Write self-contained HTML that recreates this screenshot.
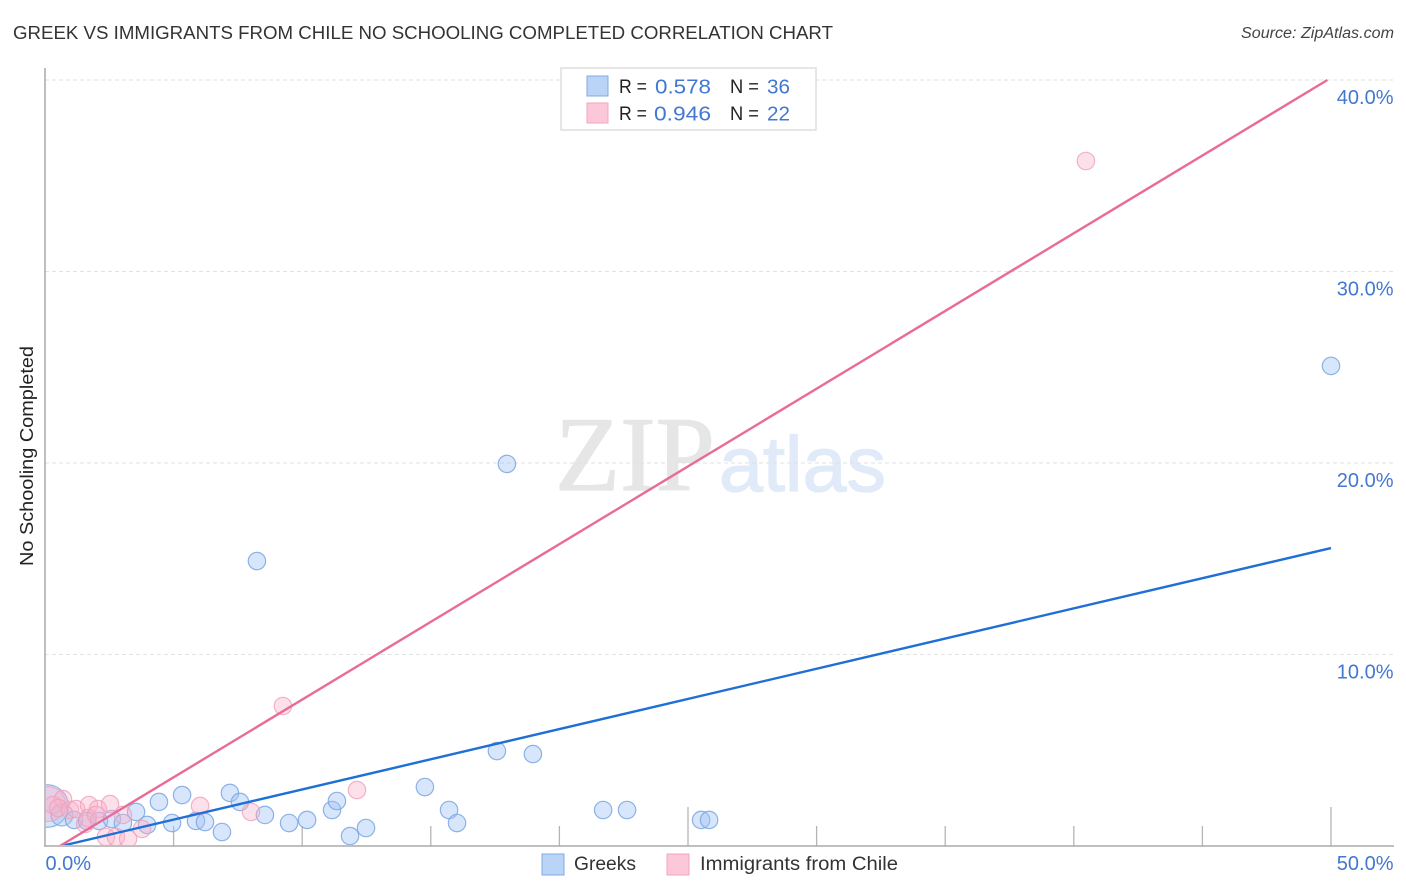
<!DOCTYPE html>
<html lang="en">
<head>
<meta charset="utf-8">
<title>Greek vs Immigrants from Chile No Schooling Completed Correlation Chart</title>
<style>
html,body{margin:0;padding:0;background:#fff;width:1406px;height:892px;overflow:hidden}
svg{display:block;font-family:"Liberation Sans",sans-serif}
</style>
</head>
<body>
<svg id="chart" width="1406" height="892" viewBox="0 0 1406 892" xmlns="http://www.w3.org/2000/svg">
  <text x="13" y="39" font-size="18" fill="#333" textLength="820" lengthAdjust="spacingAndGlyphs">GREEK VS IMMIGRANTS FROM CHILE NO SCHOOLING COMPLETED CORRELATION CHART</text>
  <text x="1241" y="38" font-size="15.500" font-style="italic" fill="#444" textLength="153" lengthAdjust="spacingAndGlyphs">Source: ZipAtlas.com</text>

  <g>
    <text x="555" y="490" font-family="'Liberation Serif',serif" font-size="106" fill="#e6e6e6" stroke="#e6e6e6" stroke-width="1.2" textLength="160" lengthAdjust="spacingAndGlyphs">ZIP</text>
    <text x="719" y="491" font-size="78" fill="#e0eaf9" stroke="#e0eaf9" stroke-width="1.2" textLength="167" lengthAdjust="spacingAndGlyphs">atlas</text>
  </g>

  <g id="grid"></g>
  <g id="y-labels"></g>
  <g id="x-ticks"></g>
  <line x1="45" y1="68" x2="45" y2="846" stroke="#aaa" stroke-width="1.5"/>
  <line x1="44" y1="846" x2="1394" y2="846" stroke="#aaa" stroke-width="1.5"/>
  <g id="x-labels"></g>

  <svg x="46" y="60" width="1348" height="785" viewBox="46 60 1348 785" overflow="hidden">
    <g id="greek-points"></g>
    <g id="chile-points"></g>
    <line id="greek-trend" stroke="#1f6fd6" stroke-width="2.4"/>
    <line id="chile-trend" stroke="#e86b99" stroke-width="2.4"/>
  </svg>

  <text transform="translate(33,566) rotate(-90)" font-size="18" fill="#222" textLength="220" lengthAdjust="spacingAndGlyphs">No Schooling Completed</text>

  <g>
    <rect x="561" y="68" width="255" height="62" fill="#fff" stroke="#dedede" stroke-width="1.5"/>
    <rect x="587" y="76" width="21" height="20" fill="#b9d4f7" stroke="#7fabe2" stroke-width="1"/>
    <rect x="587" y="103" width="21" height="20" fill="#fcc8d9" stroke="#f3a5bf" stroke-width="1"/>
    <g font-size="19" fill="#222">
      <text x="619" y="93" textLength="28" lengthAdjust="spacingAndGlyphs">R =</text>
      <text x="730" y="93" textLength="29" lengthAdjust="spacingAndGlyphs">N =</text>
      <text x="619" y="120" textLength="28" lengthAdjust="spacingAndGlyphs">R =</text>
      <text x="730" y="120" textLength="29" lengthAdjust="spacingAndGlyphs">N =</text>
    </g>
    <g font-size="20.500" fill="#4278d2">
      <text x="655" y="93.500" textLength="56" lengthAdjust="spacingAndGlyphs">0.578</text>
      <text x="767" y="93.500" textLength="23" lengthAdjust="spacingAndGlyphs">36</text>
      <text x="654" y="120.500" textLength="57" lengthAdjust="spacingAndGlyphs">0.946</text>
      <text x="767" y="120.500" textLength="23" lengthAdjust="spacingAndGlyphs">22</text>
    </g>
  </g>

  <g>
    <rect x="542" y="854" width="22" height="21" fill="#b9d4f7" stroke="#7fabe2" stroke-width="1"/>
    <text x="574" y="870" font-size="19" fill="#333" textLength="62" lengthAdjust="spacingAndGlyphs">Greeks</text>
    <rect x="667" y="854" width="22" height="21" fill="#fcc8d9" stroke="#f3a5bf" stroke-width="1"/>
    <text x="700" y="870" font-size="19" fill="#333" textLength="198" lengthAdjust="spacingAndGlyphs">Immigrants from Chile</text>
  </g>
</svg>
<script>
const yTicks = [10, 20, 30, 40];
const yTickLabels = ["10.0%", "20.0%", "30.0%", "40.0%"];
const xTicks = [5, 10, 15, 20, 25, 30, 35, 40, 45, 50];
const xMajorTicks = [25, 50];
const xEndValues = [0, 50];
const xEndLabels = ["0.0%", "50.0%"];

const greekX = [0.08,0.66,1.13,1.63,2.10,2.60,3.03,3.54,3.97,4.43,4.94,5.33,5.87,6.22,6.88,7.19,7.58,8.55,9.49,10.19,11.16,11.35,11.86,12.48,14.77,15.71,16.02,17.57,18.97,21.70,22.63,25.51,25.82,8.24,17.96,50.0];
const greekY = [2.09,1.62,1.36,1.31,1.31,1.41,1.20,1.78,1.10,2.30,1.20,2.66,1.31,1.25,0.73,2.77,2.30,1.62,1.20,1.36,1.88,2.35,0.52,0.94,3.08,1.88,1.20,4.96,4.80,1.88,1.88,1.36,1.36,14.88,19.95,25.07];
const greekWeight = [6,1.6,1,1,1,1,1,1,1,1,1,1,1,1,1,1,1,1,1,1,1,1,1,1,1,1,1,1,1,1,1,1,1,1,1,1];

const chileX = [0.12,0.31,0.70,0.51,0.97,1.21,1.71,1.56,2.06,1.67,1.98,2.53,3.03,2.37,2.76,3.23,3.77,6.03,8.01,12.13,9.25,40.47];
const chileY = [2.19,2.14,2.45,1.98,1.88,1.93,2.14,1.15,1.93,1.46,1.62,2.19,1.62,0.47,0.47,0.37,0.89,2.09,1.78,2.92,7.31,35.77];
const chileWeight = [4,1,1,1,1,1,1,1,1,1,1,1,1,1,1,1,1,1,1,1,1,1];

const greekTrendX = [0.63, 50];
const greekTrendY = [0, 15.56];
const chileTrendX = [0.58, 49.86];
const chileTrendY = [0, 40];

const SVGNS = "http://www.w3.org/2000/svg";
const xScale = v => 45 + v * 25.72;
const yScale = v => 846 - v * 19.15;
const rScale = w => 8.7 * Math.sqrt(w);

function make(tag, attrs, parent) {
  const el = document.createElementNS(SVGNS, tag);
  for (const k in attrs) el.setAttribute(k, attrs[k]);
  parent.appendChild(el);
  return el;
}

const gridG = document.getElementById("grid");
const yLabelG = document.getElementById("y-labels");
yTicks.forEach((t, i) => {
  const ln = make("line", {x1: 45, x2: 1394, y1: yScale(t), y2: yScale(t), stroke: "#e2e2e2", "stroke-width": 1, "stroke-dasharray": "4 3"}, gridG);
  
  
  const tx = make("text", {x: 1393.5, y: yScale(t) + 24, "text-anchor": "end", "font-size": 20, fill: "#4278d2"}, yLabelG);
  tx.textContent = yTickLabels[i];
  
  
});

const xTickG = document.getElementById("x-ticks");
xTicks.forEach(t => {
  const top = xMajorTicks.includes(t) ? 807 : 826;
  const ln = make("line", {x1: xScale(t), x2: xScale(t), y1: top, y2: 846, stroke: "#b5b5b5", "stroke-width": 1.3}, xTickG);
  
  
});

const xLabelG = document.getElementById("x-labels");
xEndValues.forEach((v, i) => {
  const attrs = v === 0
    ? {x: 45.5, y: 870, "text-anchor": "start", "font-size": 20, fill: "#4278d2"}
    : {x: 1393.5, y: 870, "text-anchor": "end", "font-size": 20, fill: "#4278d2"};
  const tx = make("text", attrs, xLabelG);
  tx.textContent = xEndLabels[i];
  
  
});

const greekG = document.getElementById("greek-points");
greekX.forEach((v, i) => {
  const c = make("circle", {cx: xScale(v), cy: yScale(greekY[i]), r: rScale(greekWeight[i]), fill: "rgba(160,196,243,0.42)", stroke: "#7aa6e3", "stroke-width": 1.2, "stroke-opacity": 0.85}, greekG);
  
  
});

const chileG = document.getElementById("chile-points");
chileX.forEach((v, i) => {
  const c = make("circle", {cx: xScale(v), cy: yScale(chileY[i]), r: rScale(chileWeight[i]), fill: "rgba(250,175,200,0.38)", stroke: "#f0a0bc", "stroke-width": 1.2, "stroke-opacity": 0.8}, chileG);
  
  
});

function setTrend(id, xs, ys) {
  const l = document.getElementById(id);
  l.setAttribute("x1", xScale(xs[0]));
  l.setAttribute("y1", yScale(ys[0]));
  l.setAttribute("x2", xScale(xs[1]));
  l.setAttribute("y2", yScale(ys[1]));
}
setTrend("greek-trend", greekTrendX, greekTrendY);
setTrend("chile-trend", chileTrendX, chileTrendY);
</script>
</body>
</html>
